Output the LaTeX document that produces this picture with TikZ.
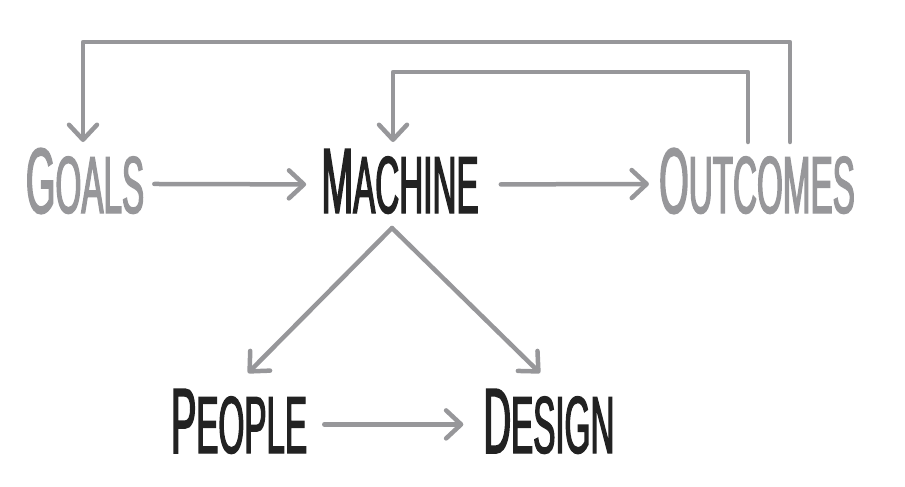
\documentclass[tikz,border=0pt]{standalone}
\usepackage{fontspec}
\setmainfont{Liberation Sans}[FakeStretch=0.41,FakeBold=1.6]
\usetikzlibrary{arrows.meta}
\definecolor{linegray}{HTML}{97979A}
\definecolor{inkblack}{HTML}{222222}
\newcommand\capword[2]{{\fontsize{93}{93}\selectfont #1}{\fontsize{81}{81}\selectfont #2}}
\tikzset{
  word/.style={inner sep=0pt, anchor=base},
  dim/.style={word, text=linegray},
  dark/.style={word, text=inkblack},
  flow/.style={draw=linegray, line width=4.5pt, line cap=round, line join=round,
    -{Straight Barb[length=15pt,width=28pt,round]}}
}
\begin{document}
\begin{tikzpicture}[x=1pt,y=-1pt]
  \useasboundingbox (0,0) rectangle (905,487);
  % words
  \node[dim]  (goals)    at (85,213)  {\capword{G}{OALS}};
  \node[dark] (machine)  at (400,213) {\capword{M}{ACHINE}};
  \node[dim]  (outcomes) at (757,213) {\capword{O}{UTCOMES}};
  \node[dark] (people)   at (239,453) {\capword{P}{EOPLE}};
  \node[dark] (design)   at (549,453) {\capword{D}{ESIGN}};
  % loop ends
  \coordinate (o1) at (790,142);
  \coordinate (o2) at (748,142);
  \coordinate (g1) at (83,142);
  \coordinate (m1) at (393,142);
  \coordinate (apex)  at (392,228);
  \coordinate (ptip)  at (248,373);
  \coordinate (dtip)  at (540,373);
  % arrows
  \draw[flow] ([xshift=10pt,yshift=-3pt]goals.east) -- ([xshift=-15pt,yshift=-3pt]machine.west);
  \draw[flow] ([xshift=22pt,yshift=-3pt]machine.east) -- ([xshift=-10pt,yshift=-3pt]outcomes.west);
  \draw[flow] (o1) -- ++(0,-100) -| (g1);
  \draw[flow] (o2) -- ++(0,-70) -| (m1);
  \draw[flow] (apex) -- (ptip);
  \draw[flow] (apex) -- (dtip);
  \draw[flow] ([xshift=17pt,yshift=-3pt]people.east) -- ([xshift=-20pt,yshift=-3pt]design.west);
\end{tikzpicture}
\end{document}
